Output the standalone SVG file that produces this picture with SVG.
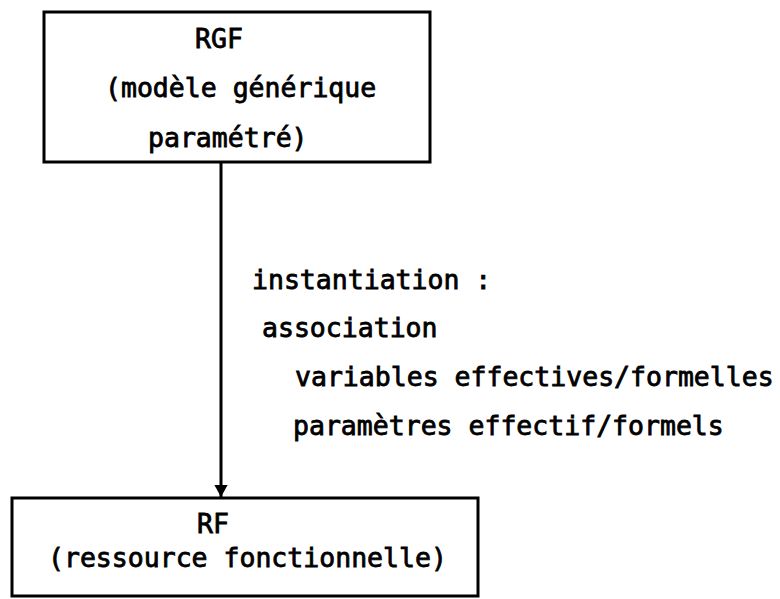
<svg xmlns="http://www.w3.org/2000/svg" width="780" height="599" viewBox="0 0 780 599">
<style>
.box{fill:none;stroke:#000;stroke-width:3}
.t{font-family:"DejaVu Sans Mono","Liberation Mono",monospace;font-size:26.5px;fill:#000;stroke:#000;stroke-width:0.8px}
.edge{stroke:#000;stroke-width:3;fill:none}
</style>
<defs>
<marker id="ah" markerWidth="4" markerHeight="5" refX="4" refY="2.5" orient="auto" markerUnits="strokeWidth">
<path d="M0,0.3 L4,2.5 L0,4.7 Z" fill="#000"/>
</marker>
</defs>
<rect width="780" height="599" fill="#fff"/>
<g id="connectors">
<line class="edge" x1="221" y1="162" x2="221" y2="497" marker-end="url(#ah)"/>
<g id="edge-label">
<text class="t" x="252" y="289">instantiation :</text>
<text class="t" x="262" y="337">association</text>
<text class="t" x="295" y="386">variables effectives/formelles</text>
<text class="t" x="293" y="435">paramètres effectif/formels</text>
</g>
</g>
<g id="rgf">
<rect class="box" x="44" y="12" width="386" height="150"/>
<text class="t" x="195" y="48">RGF</text>
<text class="t" x="105" y="97">(modèle générique</text>
<text class="t" x="148" y="147">paramétré)</text>
</g>
<g id="rf">
<rect class="box" x="12" y="498" width="466" height="98"/>
<text class="t" x="197" y="533">RF</text>
<text class="t" x="48" y="567">(ressource fonctionnelle)</text>
</g>
</svg>
